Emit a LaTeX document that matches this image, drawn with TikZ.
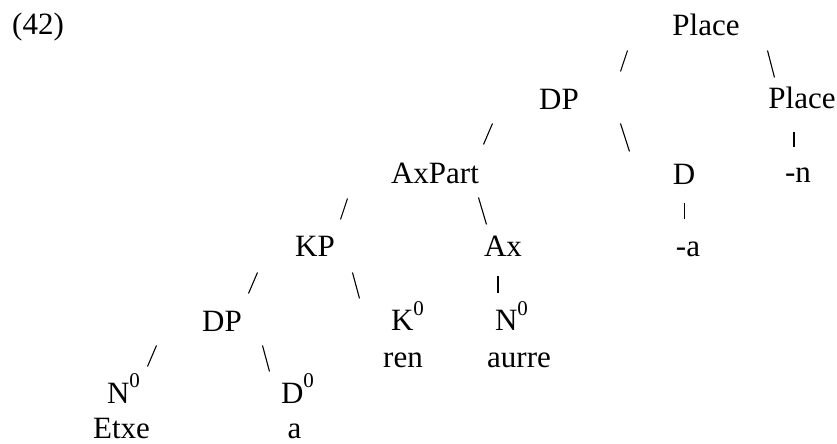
\documentclass[tikz,border=0pt]{standalone}
\usepackage{fontspec}
\setmainfont{Liberation Serif}
\begin{document}
\begin{tikzpicture}[x=0.5pt,y=-0.5pt,
  every node/.style={inner sep=0pt, outer sep=0pt},
  lbl/.style={anchor=base, font=\fontsize{15.5}{18}\selectfont},
  branch/.style={line width=0.55pt},
  vbar/.style={line width=0.9pt}]
\useasboundingbox (0,0) rectangle (837,444);
\newcommand{\zsup}{\raisebox{0.5em}{\fontsize{10.5}{11}\selectfont 0}}
% labels
\node[lbl] (ex) at (38,35) {(42)};
\node[lbl] (place1) at (706,36) {Place};
\node[lbl] (dp1) at (559,110) {DP};
\node[lbl] (place2) at (802,109) {Place};
\node[lbl] (axpart) at (435,184) {AxPart};
\node[lbl] (d) at (684,185) {D};
\node[lbl] (n) at (798,183) {-n};
\node[lbl] (kp) at (315,257) {KP};
\node[lbl] (ax) at (503,257) {Ax};
\node[lbl] (a1) at (688,257) {-a};
\node[lbl] (dp3) at (222,332) {DP};
\node[lbl] (k0) at (407.5,331) {K\zsup};
\node[lbl] (n0a) at (511.5,331) {N\zsup};
\node[lbl] (ren) at (403,367) {ren};
\node[lbl] (aurre) at (519,368) {aurre};
\node[lbl] (n0b) at (123.5,403) {N\zsup};
\node[lbl] (d0) at (297.5,403) {D\zsup};
\node[lbl] (etxe) at (121.5,438) {Etxe};
\node[lbl] (a2) at (294.5,438) {a};
% branch ends
\coordinate (s1a) at (620.5,71.5); \coordinate (s1b) at (627.5,50.5);
\coordinate (b1a) at (767.5,50.5); \coordinate (b1b) at (774.5,77.5);
\coordinate (s2a) at (483.5,144.5); \coordinate (s2b) at (492.5,123.5);
\coordinate (b2a) at (620.5,123.5); \coordinate (b2b) at (629.5,151.5);
\coordinate (s3a) at (340.5,219.5); \coordinate (s3b) at (347.5,198.5);
\coordinate (b3a) at (478.5,197.5); \coordinate (b3b) at (486.5,224.5);
\coordinate (s4a) at (248.5,293.5); \coordinate (s4b) at (257.5,272.5);
\coordinate (b4a) at (352.5,272.5); \coordinate (b4b) at (359.5,298.5);
\coordinate (s5a) at (147.5,366.5); \coordinate (s5b) at (156.5,345.5);
\coordinate (b5a) at (262.5,345.5); \coordinate (b5b) at (269.5,371.5);
\coordinate (v1a) at (794,132); \coordinate (v1b) at (794,147);
\coordinate (v2a) at (684.5,203); \coordinate (v2b) at (684.5,219);
\coordinate (v3a) at (498,276); \coordinate (v3b) at (498,293);
% branches
\foreach \p in {s1,b1,s2,b2,s3,b3,s4,b4,s5,b5} \draw[branch] (\p a) -- (\p b);
\foreach \p in {v1,v2,v3} \draw[vbar] (\p a) -- (\p b);
\end{tikzpicture}
\end{document}
